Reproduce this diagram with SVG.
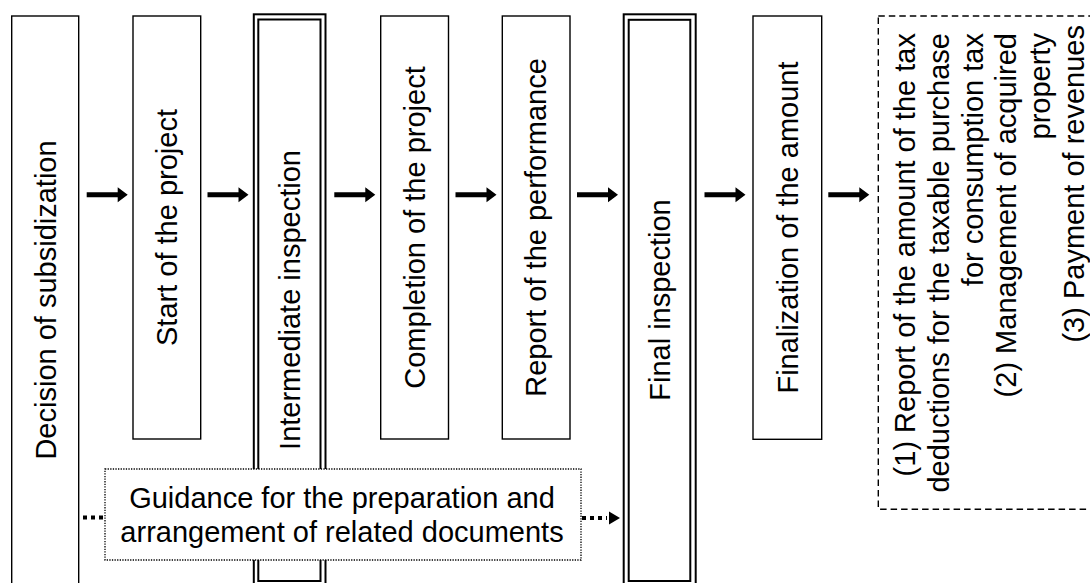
<svg xmlns="http://www.w3.org/2000/svg" xmlns:xlink="http://www.w3.org/1999/xlink" width="1090" height="583" viewBox="0 0 1090 583">
<style>
.box{fill:#fff;stroke:#000;stroke-width:1.4}
.dbl{fill:#fff;stroke:#000;stroke-width:2}
.dash{fill:#fff;stroke:#000;stroke-width:1.4;stroke-dasharray:6.5 4}
.dot{fill:#fff;stroke:#000;stroke-width:1.3;stroke-dasharray:1.3 1.3}
.lbl{font-family:"Liberation Sans",Arial,sans-serif;font-size:29px;fill:#000}
.dcon{stroke:#000;stroke-width:4;stroke-dasharray:4 4;fill:none}
</style>
<defs>
<path id="arr" d="M0,-2.5 H31 V-7.5 L41,0 L31,7.5 V2.5 H0 Z" fill="#000"/>
</defs>
<rect width="1090" height="583" fill="#fff"/>

<g id="n1">
<rect class="box" x="11.7" y="16" width="67" height="590"/>
<text class="lbl" transform="translate(55.5,300) rotate(-90)" text-anchor="middle">Decision of subsidization</text>
</g>
<g id="n2">
<rect class="box" x="133" y="16" width="67.7" height="423"/>
<text class="lbl" transform="translate(177,227.5) rotate(-90)" text-anchor="middle">Start of the project</text>
</g>
<g id="n3">
<rect class="dbl" x="253.8" y="14.3" width="71.7" height="600"/>
<rect class="dbl" x="258.3" y="19.5" width="62.2" height="561.5"/>
<text class="lbl" transform="translate(300,300) rotate(-90)" text-anchor="middle">Intermediate inspection</text>
</g>
<g id="n4">
<rect class="box" x="380.7" y="16" width="67.8" height="423"/>
<text class="lbl" transform="translate(424.8,227.5) rotate(-90)" text-anchor="middle">Completion of the project</text>
</g>
<g id="n5">
<rect class="box" x="502.3" y="16" width="67.7" height="423"/>
<text class="lbl" transform="translate(546.4,227.5) rotate(-90)" text-anchor="middle">Report of the performance</text>
</g>
<g id="n6">
<rect class="dbl" x="623.7" y="14.3" width="72" height="600"/>
<rect class="dbl" x="628.7" y="19.8" width="61.6" height="561.2"/>
<text class="lbl" transform="translate(670,300) rotate(-90)" text-anchor="middle">Final inspection</text>
</g>
<g id="n7">
<rect class="box" x="753" y="16" width="68.7" height="423.3"/>
<text class="lbl" transform="translate(797.6,227.5) rotate(-90)" text-anchor="middle">Finalization of the amount</text>
</g>
<g id="n8">
<rect class="dash" x="878.3" y="16" width="230" height="493.3"/>
<text class="lbl" transform="rotate(-90)" text-anchor="end">
<tspan x="-25" y="915">(1) Report of the amount of the tax</tspan>
<tspan x="-25" y="948.8">deductions for the taxable purchase</tspan>
<tspan x="-25" y="982.6">for consumption tax</tspan>
<tspan x="-25" y="1016.4">(2) Management of acquired</tspan>
<tspan x="-25" y="1050.2">property</tspan>
<tspan x="-25" y="1084">(3) Payment of revenues</tspan>
</text>
</g>
<g id="n9">
<rect class="dot" x="105" y="469" width="476" height="91"/>
<text class="lbl" text-anchor="middle"><tspan x="342" y="508.3">Guidance for the preparation and</tspan><tspan x="342" y="542.3">arrangement of related documents</tspan></text>
</g>

<g id="connectors">
<use xlink:href="#arr" x="86.7" y="194.8"/>
<use xlink:href="#arr" x="207.5" y="194.8"/>
<use xlink:href="#arr" x="334.3" y="194.8"/>
<use xlink:href="#arr" x="455.5" y="194.8"/>
<use xlink:href="#arr" x="577" y="194.8"/>
<use xlink:href="#arr" x="704.5" y="194.8"/>
<use xlink:href="#arr" x="828.3" y="194.8"/>
<line class="dcon" x1="83" y1="517.5" x2="103" y2="517.5"/>
<line class="dcon" x1="582" y1="518" x2="607" y2="518"/>
<polygon points="609,511.5 620,518 609,524.5" fill="#000"/>
</g>
</svg>
